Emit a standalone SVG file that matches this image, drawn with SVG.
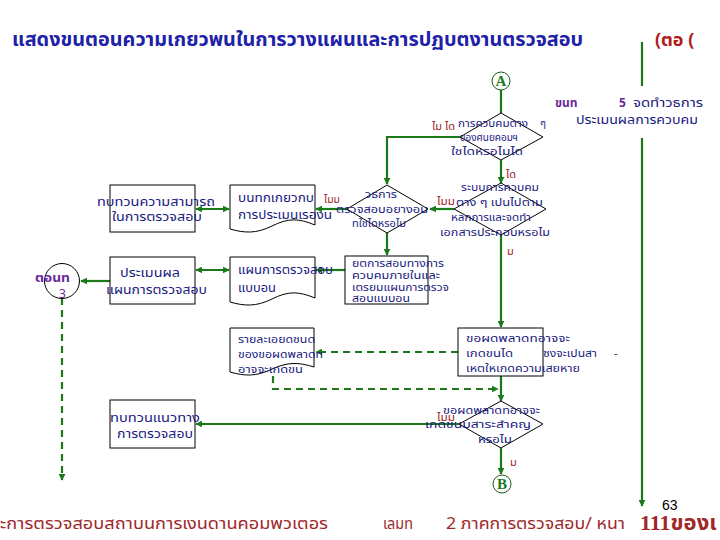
<svg xmlns="http://www.w3.org/2000/svg" width="720" height="540" viewBox="0 0 720 540">
<defs>
<style>
.t{font-family:"Noto Sans Thai","Tlwg Typo","Loma","Garuda","Noto Sans","DejaVu Sans",sans-serif;font-size:11px;fill:#1a1a80}
.b{font-size:12px}
.d{font-size:10px}
.r{fill:#a01c1c;font-size:11px}
.p{fill:#6a2a9a;font-weight:bold}
.box{fill:#fff;stroke:#000;stroke-width:1}
.ln{fill:none;stroke:#1a7a1a;stroke-width:2.2}
.ds{stroke-dasharray:7 5}
.ft{font-family:"Noto Sans Thai","Tlwg Typo","Loma","Garuda","Noto Sans","DejaVu Sans",sans-serif;font-size:16px;fill:#a0282a}
</style>
<marker id="ah" viewBox="0 0 10 10" refX="9" refY="5" markerWidth="7" markerHeight="7" markerUnits="userSpaceOnUse" orient="auto-start-reverse">
<path d="M0,0 L10,5 L0,10 z" fill="#1a7a1a"/>
</marker>
</defs>
<rect width="720" height="540" fill="#fff"/>

<text x="12" y="46" class="t" style="font-size:19px;font-weight:bold;fill:#2020a8" textLength="571" lengthAdjust="spacingAndGlyphs">แสดงขนตอนความเกยวพนในการวางแผนและการปฏบตงานตรวจสอบ</text>
<text x="655" y="46" class="t" style="font-size:18px;font-weight:bold;fill:#b01c1c">(ตอ  (</text>

<g id="connectors">
<path class="ln" d="M642,42 V86"/>
<path class="ln" d="M642,138 V506" marker-end="url(#ah)"/>
<path class="ln" d="M501,90 V113"/>
<path class="ln" d="M460,137 H387 V184" marker-end="url(#ah)"/>
<path class="ln" d="M501,160 V183" marker-end="url(#ah)"/>
<path class="ln" d="M454,209 H430" marker-end="url(#ah)"/>
<path class="ln" d="M347,209 H316" marker-end="url(#ah)"/>
<path class="ln" d="M196,209 H229" marker-start="url(#ah)" marker-end="url(#ah)"/>
<path class="ln" d="M387,233 V255" marker-end="url(#ah)"/>
<path class="ln" d="M345,270 H316" marker-end="url(#ah)"/>
<path class="ln" d="M196,270 H229" marker-start="url(#ah)" marker-end="url(#ah)"/>
<path class="ln" d="M110,281 H81" marker-end="url(#ah)"/>
<path class="ln ds" d="M62,298 V480" marker-end="url(#ah)"/>
<path class="ln" d="M501,235 V327" marker-end="url(#ah)"/>
<path class="ln ds" d="M458,352 H316" marker-end="url(#ah)"/>
<path class="ln ds" d="M273,376 V389 H498" marker-end="url(#ah)"/>
<path class="ln" d="M501,376 V401" marker-end="url(#ah)"/>
<path class="ln" d="M459,424 H196" marker-end="url(#ah)"/>
<path class="ln" d="M501,448 V474" marker-end="url(#ah)"/>
</g>

<g id="topnote">
<rect x="552" y="90" width="156" height="40" fill="#fff"/>
<text x="555" y="107" class="t p" style="font-size:12px">ขนท</text>
<text x="619" y="107" class="t p" style="font-size:12px">5</text>
<text class="t b"><tspan x="633" y="107" textLength="70" lengthAdjust="spacingAndGlyphs">จดทำวธการ</tspan><tspan x="576" y="124" textLength="122" lengthAdjust="spacingAndGlyphs">ประเมนผลการควบคม</tspan></text>
</g>

<g id="A">
<circle cx="501" cy="81" r="9" fill="#fff" stroke="#1a5a1a" stroke-width="1"/>
<text x="501" y="86" text-anchor="middle" style="font-family:'Liberation Serif',serif;font-size:15px;font-weight:bold;fill:#1a7a1a">A</text>
</g>

<g id="d1">
<polygon class="box" points="501,113 543,137 501,160 460,137"/>
<text class="t d"><tspan x="458" y="127" textLength="70" lengthAdjust="spacingAndGlyphs">การควบคมตาง</tspan><tspan x="540" y="127">ๆ</tspan><tspan x="460" y="141" textLength="58" lengthAdjust="spacingAndGlyphs">ของศนยคอมฯ</tspan><tspan x="451" y="155" textLength="72" lengthAdjust="spacingAndGlyphs">ใชไดหรอไมได</tspan></text>
<text x="432" y="130" class="t r" textLength="23" lengthAdjust="spacingAndGlyphs">ไม ได</text>
<text x="506" y="178" class="t r">ได</text>
</g>

<g id="d3">
<polygon class="box" points="501,183 546,209 501,235 454,209"/>
<text class="t d"><tspan x="461" y="191" textLength="78" lengthAdjust="spacingAndGlyphs">ระบบการควบคม</tspan><tspan x="456" y="206" textLength="87" lengthAdjust="spacingAndGlyphs">ตาง ๆ เปนไปตาม</tspan><tspan x="451" y="221" textLength="80" lengthAdjust="spacingAndGlyphs">หลกการและจดทำ</tspan><tspan x="440" y="236" textLength="110" lengthAdjust="spacingAndGlyphs">เอกสารประกอบหรอไม</tspan></text>
<text x="437" y="205" class="t r" textLength="18" lengthAdjust="spacingAndGlyphs">ไมม</text>
<text x="507" y="255" class="t r">ม</text>
</g>

<g id="d2">
<polygon class="box" points="387,185 428,209 387,233 347,209"/>
<text class="t d"><tspan x="365" y="198" textLength="32" lengthAdjust="spacingAndGlyphs">วธการ</tspan><tspan x="336" y="213" textLength="92" lengthAdjust="spacingAndGlyphs">ตรวจสอบอยางอน</tspan><tspan x="352" y="227" textLength="54" lengthAdjust="spacingAndGlyphs">ทใชไดหรอไม</tspan></text>
<text x="324" y="203" class="t r" textLength="16" lengthAdjust="spacingAndGlyphs">ไมม</text>
</g>

<g id="box1">
<rect class="box" x="110" y="185" width="85" height="47"/>
<text class="t b"><tspan x="97" y="206" textLength="118" lengthAdjust="spacingAndGlyphs">ทบทวนความสามารถ</tspan><tspan x="112" y="221" textLength="90" lengthAdjust="spacingAndGlyphs">ในการตรวจสอบ</tspan></text>
</g>

<g id="box2">
<path class="box" d="M230,185 H315 V225 C298,218 288,218 272,226 C256,234 244,233 230,229 Z"/>
<text class="t b"><tspan x="238" y="202" textLength="76" lengthAdjust="spacingAndGlyphs">บนทกเกยวกบ</tspan><tspan x="238" y="219" textLength="94" lengthAdjust="spacingAndGlyphs">การประเมนเรองน</tspan></text>
</g>

<g id="box3">
<rect class="box" x="345" y="256" width="83" height="48"/>
<text class="t d"><tspan x="352" y="267" textLength="92" lengthAdjust="spacingAndGlyphs">ยตการสอบทางการ</tspan><tspan x="352" y="279" textLength="88" lengthAdjust="spacingAndGlyphs">ควบคมภายในและ</tspan><tspan x="352" y="291" textLength="97" lengthAdjust="spacingAndGlyphs">เตรยมแผนการตรวจ</tspan><tspan x="352" y="302" textLength="58" lengthAdjust="spacingAndGlyphs">สอบแบบอน</tspan></text>
</g>

<g id="box4">
<path class="box" d="M230,257 H315 V298 C298,291 288,291 272,299 C256,307 244,306 230,302 Z"/>
<text class="t b"><tspan x="238" y="274" textLength="95" lengthAdjust="spacingAndGlyphs">แผนการตรวจสอบ</tspan><tspan x="238" y="292" textLength="38" lengthAdjust="spacingAndGlyphs">แบบอน</tspan></text>
</g>

<g id="box5">
<rect class="box" x="110" y="257" width="85" height="47"/>
<text class="t b"><tspan x="120" y="277" textLength="60" lengthAdjust="spacingAndGlyphs">ประเมนผล</tspan><tspan x="106" y="294" textLength="101" lengthAdjust="spacingAndGlyphs">แผนการตรวจสอบ</tspan></text>
</g>

<g id="step3">
<circle cx="62" cy="281" r="17.5" fill="#fff" stroke="#000" stroke-width="1"/>
<text class="t p" style="font-size:12px"><tspan x="35" y="282" textLength="35" lengthAdjust="spacingAndGlyphs">ตอนท</tspan><tspan x="59" y="298" style="font-weight:normal">3</tspan></text>
</g>

<g id="box6">
<rect class="box" x="458" y="328" width="85" height="48"/>
<text class="t"><tspan x="466" y="342" textLength="104" lengthAdjust="spacingAndGlyphs">ขอผดพลาดทอาจจะ</tspan><tspan x="466" y="357" textLength="47" lengthAdjust="spacingAndGlyphs">เกดขนได</tspan><tspan x="543" y="357" textLength="54" lengthAdjust="spacingAndGlyphs">ซงจะเปนสา</tspan><tspan x="614" y="357">-</tspan><tspan x="466" y="372" textLength="114" lengthAdjust="spacingAndGlyphs">เหตใหเกดความเสยหาย</tspan></text>
</g>

<g id="box7">
<path class="box" d="M230,328 H314 V367 C298,362 288,362 272,369 C256,377 244,376 230,372 Z"/>
<text class="t"><tspan x="238" y="343" textLength="77" lengthAdjust="spacingAndGlyphs">รายละเอยดชนด</tspan><tspan x="238" y="358" textLength="85" lengthAdjust="spacingAndGlyphs">ของขอผดพลาดท</tspan><tspan x="238" y="373" textLength="65" lengthAdjust="spacingAndGlyphs">อาจจะเกดขน</tspan></text>
</g>

<g id="d4">
<polygon class="box" points="501,401 543,424 501,448 459,424"/>
<text class="t d"><tspan x="443" y="414" textLength="97" lengthAdjust="spacingAndGlyphs">ขอผดพลาดทอาจจะ</tspan><tspan x="425" y="428" textLength="106" lengthAdjust="spacingAndGlyphs">เกดขนมสาระสำคญ</tspan><tspan x="478" y="443" textLength="34" lengthAdjust="spacingAndGlyphs">หรอไม</tspan></text>
<text x="437" y="421" class="t r" textLength="18" lengthAdjust="spacingAndGlyphs">ไมม</text>
<text x="510" y="466" class="t r">ม</text>
</g>

<g id="box8">
<rect class="box" x="110" y="400" width="85" height="48"/>
<text class="t b"><tspan x="110" y="422" textLength="90" lengthAdjust="spacingAndGlyphs">ทบทวนแนวทาง</tspan><tspan x="117" y="438" textLength="76" lengthAdjust="spacingAndGlyphs">การตรวจสอบ</tspan></text>
</g>

<g id="B">
<circle cx="502" cy="484" r="9" fill="#fff" stroke="#1a5a1a" stroke-width="1"/>
<text x="502" y="489" text-anchor="middle" style="font-family:'Liberation Serif',serif;font-size:15px;font-weight:bold;fill:#1a7a1a">B</text>
</g>

<g id="footer">
<text x="0" y="529" class="ft" textLength="328" lengthAdjust="spacingAndGlyphs">ะการตรวจสอบสถาบนการเงนดานคอมพวเตอร</text>
<text x="383" y="529" class="ft" textLength="30" lengthAdjust="spacingAndGlyphs">เลมท</text>
<text x="446" y="529" class="ft" textLength="179" lengthAdjust="spacingAndGlyphs">2 ภาคการตรวจสอบ/ หนา</text>
<text x="640" y="530" class="ft" style="font-family:'Liberation Serif','Noto Sans Thai','Loma',serif;font-size:22px;font-weight:bold">111ของเ</text>
<text x="662" y="510" style="font-family:'Liberation Sans',sans-serif;font-size:14px;fill:#000">63</text>
</g>
</svg>
